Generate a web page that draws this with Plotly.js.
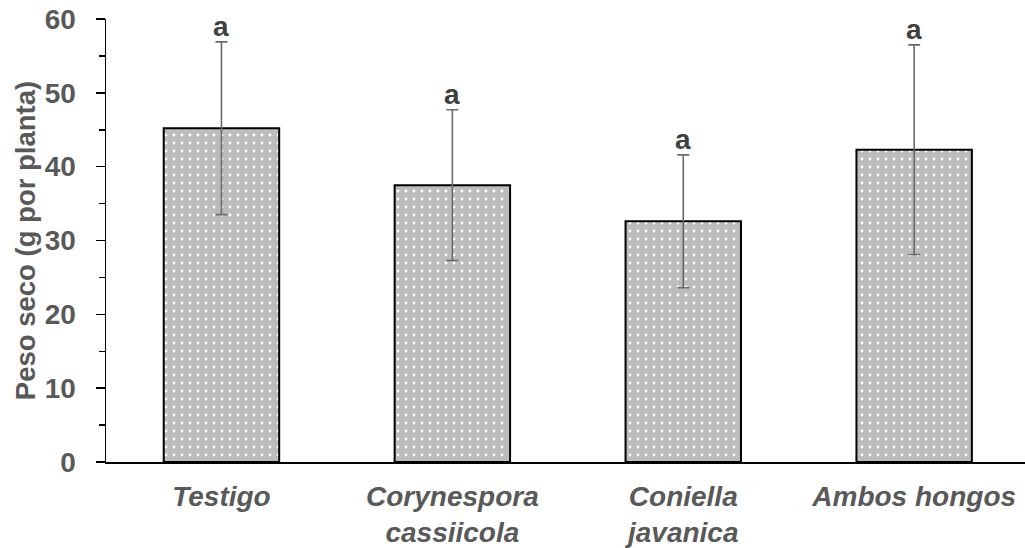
<!DOCTYPE html>
<html>
<head>
<meta charset="utf-8">
<script src="https://cdn.plot.ly/plotly-3.0.1.min.js"></script>
<style>html,body{margin:0;padding:0;background:#fff;}#chart{width:1025px;height:548px;}</style>
</head>
<body>
<div id="chart"></div>
<script>
const categories = ["<i>Testigo</i>", "<i>Corynespora</i><br><i>cassiicola</i>", "<i>Coniella</i><br><i>javanica</i>", "<i>Ambos hongos</i>"];
const meanValues = [45.2, 37.5, 32.6, 42.3];
const sdValues = [11.7, 10.2, 9.0, 14.2];
const letters = ["a", "a", "a", "a"];
const yTickValues = [0, 10, 20, 30, 40, 50, 60];

const FONT = "Liberation Sans, Arial, sans-serif";
const GREY = "#595959";

const trace = {
  type: "bar",
  x: categories,
  y: meanValues,
  width: 0.5,
  marker: {
    color: "#bcbcbc",
    line: {color: "#000", width: 2},
    pattern: {shape: ".", bgcolor: "#bcbcbc", fgcolor: "#ffffff", size: 8, solidity: 0.1}
  },
  error_y: {type: "data", array: sdValues, visible: true, color: "#6a6a6a", thickness: 1.6, width: 6},
  hoverinfo: "none"
};

const annotations = categories.map((c, i) => ({
  x: c, y: meanValues[i] + sdValues[i], text: "<b>" + letters[i] + "</b>",
  showarrow: false, yanchor: "bottom", yshift: -2,
  font: {family: FONT, size: 28, color: "#404040"}
}));

const layout = {
  width: 1025, height: 548,
  margin: {l: 106, r: 0, t: 19, b: 86},
  paper_bgcolor: "#fff", plot_bgcolor: "#fff",
  showlegend: false,
  bargap: 0.5,
  xaxis: {
    type: "category",
    range: [-0.5, 3.48],
    showline: true, linecolor: "#000", linewidth: 2,
    ticks: "", showgrid: false, zeroline: false,
    tickfont: {family: FONT, size: 28, color: GREY, weight: "bold"},
    ticklabelstandoff: 8
  },
  yaxis: {
    range: [0, 60],
    tickvals: yTickValues,
    ticktext: yTickValues.map(v => "<b>" + v + "</b>"),
    showline: true, linecolor: "#000", linewidth: 1.5,
    ticks: "outside", ticklen: 9, tickcolor: "#000", tickwidth: 1.5,
    minor: {dtick: 5, ticks: "outside", ticklen: 6, tickcolor: "#000", tickwidth: 1.5, showgrid: false},
    showgrid: false, zeroline: false,
    tickfont: {family: FONT, size: 28, color: GREY},
    ticklabelstandoff: 14,
    title: {text: "<b>Peso seco (g por planta)</b>", font: {family: FONT, size: 27.5, color: GREY}, standoff: 1}
  },
  annotations: annotations
};

Plotly.newPlot("chart", [trace], layout, {staticPlot: true, displayModeBar: false});
</script>
</body>
</html>
